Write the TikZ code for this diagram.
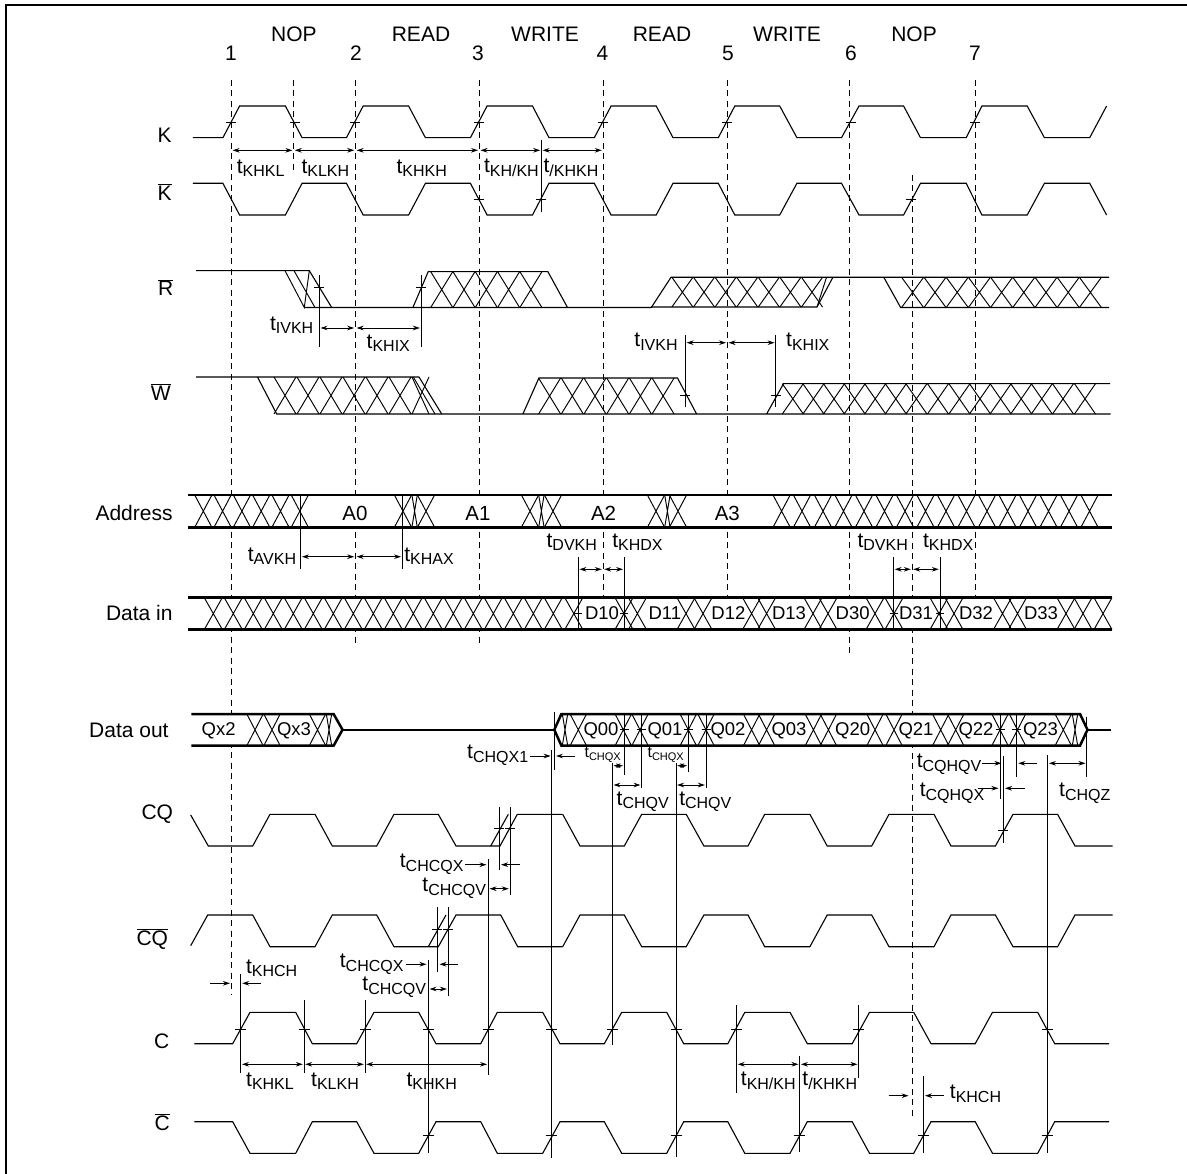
\documentclass[tikz,border=0pt]{standalone}
\usepackage{fontspec}
\setmainfont{Liberation Sans}
\usetikzlibrary{arrows.meta}
\newcommand\ol[1]{$\overline{\mbox{#1}}$}
\newcommand\tlab[1]{t\raisebox{-3.5pt}{\fontsize{16}{16}\selectfont #1}}
\newcommand\tsm[1]{{\fontsize{16}{16}\selectfont t\raisebox{-2.5pt}{\fontsize{11}{11}\selectfont #1}}}
% label: name, x, y, text
\newcommand\lbl[4]{\node[lab] (#1) at (#2,#3) {#4};}
\newcommand\blbl[4]{\node[blab] (#1) at (#2,#3) {#4};}
% crosses: ytop, ybot, half width, centres
\newcommand\xs[4]{\foreach \cc in {#4} {\draw[hatch] (\cc-#3,#1)--(\cc+#3,#2) (\cc-#3,#2)--(\cc+#3,#1);}}
% ticks: y, half width, xs
\newcommand\ticks[3]{\foreach \cc in {#3} {\draw[guide] (\cc-#2,#1)--(\cc+#2,#1);}}
% double headed: y, x list as a/b
\newcommand\dbl[2]{\foreach \aa/\bb in {#2} {\draw[dimarr] (\aa,#1)--(\bb,#1);}}
\newcommand\wK[2]{\draw[sig] (192.9,#2)--(222.9,#2)--(239.6,#1)--(285.4,#1)--(302.1,#2)--(346.4,#2)--(363.2,#1)--(408.6,#1)--(425.4,#2)--(470.4,#2)--(487.1,#1)--(532.5,#1)--(549,#2)--(594.3,#2)--(611.1,#1)--(656.2,#1)--(673,#2)--(718.3,#2)--(734.8,#1)--(779.7,#1)--(796.9,#2)--(841.5,#2)--(859,#1)--(903.6,#1)--(920.5,#2)--(966.2,#2)--(981.9,#1)--(1027.2,#1)--(1044.4,#2)--(1089.7,#2)--(1106.6,#1);}
\newcommand\wC[2]{\draw[sig] (194.3,#2)--(232.7,#2)--(250,#1)--(295.7,#1)--(312.3,#2)--(356.7,#2)--(374,#1)--(418.7,#1)--(436,#2)--(480.7,#2)--(497.3,#1)--(542.7,#1)--(560,#2)--(604.3,#2)--(621.7,#1)--(666.7,#1)--(683.7,#2)--(727.8,#2)--(744.8,#1)--(790,#1)--(807.3,#2)--(852.2,#2)--(869.5,#1)--(913.7,#1)--(931,#2)--(975.2,#2)--(992.5,#1)--(1037.7,#1)--(1054.7,#2)--(1109,#2);}
\newcommand\wQ[2]{\draw[sig] (562.7,#1)--(580,#2)--(624.3,#2)--(641.7,#1)--(686.2,#1)--(703.9,#2)--(748,#2)--(764.7,#1)--(809.9,#1)--(827.2,#2)--(871.7,#2)--(889,#1)--(934,#1)--(951,#2)--(995.4,#2)--(1013,#1)--(1057.6,#1)--(1075,#2)--(1112.6,#2);}
\tikzset{
  sig/.style={line width=1.1pt,line join=miter},
  bus/.style={line width=2.5pt},
  hatch/.style={line width=0.95pt},
  guide/.style={line width=0.9pt},
  gate/.style={line width=0.9pt,dash pattern=on 6pt off 4.5pt},
  dimarr/.style={line width=0.9pt,{Stealth[length=7pt,width=4.6pt]}-{Stealth[length=7pt,width=4.6pt]},shorten >=1.2pt,shorten <=1.2pt},
  onearr/.style={line width=0.9pt,-{Stealth[length=7pt,width=4.6pt]}},
  lab/.style={inner sep=0pt,font=\fontsize{21}{21}\selectfont},
  blab/.style={inner sep=0pt,font=\fontsize{18.5}{18.5}\selectfont}
}
\begin{document}
\begin{tikzpicture}[x=1pt,y=-1pt]
\useasboundingbox (0,0) rectangle (1187,1174);
% frame
\draw[line width=2pt] (6,1174)--(6,5)--(1187,5);
% headings
\lbl{nop1}{294}{34}{NOP}
\lbl{rd1}{421}{34}{READ}
\lbl{wr1}{545}{34}{WRITE}
\lbl{rd2}{662}{34}{READ}
\lbl{wr2}{787}{34}{WRITE}
\lbl{nop2}{914}{34}{NOP}
\lbl{n1}{231}{53}{1}
\lbl{n2}{356}{53}{2}
\lbl{n3}{478}{53}{3}
\lbl{n4}{602.5}{53}{4}
\lbl{n5}{728}{53}{5}
\lbl{n6}{851}{53}{6}
\lbl{n7}{975}{53}{7}
% signal names
\lbl{sK}{164.6}{135}{K}
\lbl{sKb}{164.6}{192}{\ol{K}}
\lbl{sR}{165.7}{287.5}{\ol{R}}
\lbl{sW}{160.7}{392}{\ol{W}}
\node[lab,anchor=east] (sA) at (172.8,513) {Address};
\node[lab,anchor=east] (sD) at (172.8,612.7) {Data in};
\lbl{sO}{128.9}{730}{Data out}
\lbl{sCQ}{157.3}{814.5}{CQ}
\lbl{sCQb}{152.3}{939}{\ol{CQ}}
\lbl{sC}{161.7}{1041.7}{C}
\lbl{sCb}{162.3}{1122}{\ol{C}}
% clock gate lines
\draw[gate] (231.4,80)--(231.4,995);
\draw[gate] (293.6,80)--(293.6,173);
\draw[gate] (355.4,80)--(355.4,644);
\draw[gate] (479.3,80)--(479.3,644);
\draw[gate] (603,80)--(603,597);
\draw[gate] (727.3,80)--(727.3,597);
\draw[gate] (849.7,80)--(849.7,653);
\draw[gate] (975.9,80)--(975.9,597);
% address bus
\fill[white] (188,495) rectangle (1112,527.3);
\draw[gate] (912,175)--(912,1117);
\draw[bus] (188,495)--(1112,495) (188,527.3)--(1112,527.3);
\xs{495}{527.3}{8.6}{203.3,222.6,241.9,261.2,280.5,299.8,403,426,530,553,656,678,781.6,802,823,843.5,864,884.5,905,925.5,946,966.5,987,1007.5,1028,1048.5,1069,1089.5}
\xs{495}{527.3}{2.7}{414.6,541.4,667.4}
\blbl{a0}{355}{513}{\fontsize{20.5}{20.5}\selectfont A0}
\blbl{a1}{478}{513}{\fontsize{20.5}{20.5}\selectfont A1}
\blbl{a2}{603.6}{513}{\fontsize{20.5}{20.5}\selectfont A2}
\blbl{a3}{727.3}{513}{\fontsize{20.5}{20.5}\selectfont A3}
% data in bus
\fill[white] (188,597.7) rectangle (1112,629.5);
\draw[bus] (188,597.7)--(1112,597.7) (188,629.5)--(1112,629.5);
\xs{597.7}{629.5}{9}{213.3,233.3,253.3,273.3,293.3,313.3,333.3,353.3,373.3,393.3,413.3,433.3,453.3,473.3,493.3,513.3,533.3,553.3,573.8,624,637.4,686,703,751.6,766.6,813,828,875,894,939,954,1002.5,1017.5,1066,1083,1103}
\blbl{d10}{602}{613.5}{D10}
\blbl{d11}{664.8}{613.5}{D11}
\blbl{d12}{728.4}{613.5}{D12}
\blbl{d13}{789}{613.5}{D13}
\blbl{d30}{852.7}{613.5}{D30}
\blbl{d31}{916}{613.5}{D31}
\blbl{d32}{976}{613.5}{D32}
\blbl{d33}{1041}{613.5}{D33}
% data out bus
\draw[bus,fill=white] (191.4,714)--(333.6,714)--(342.5,729.7)--(333.6,745.7)--(191.4,745.7);
\draw[line width=2pt] (342.5,729.7)--(554.3,729.7);
\draw[bus,fill=white] (1080,714)--(561.4,714)--(554.3,729.7)--(561.4,745.7)--(1080,745.7)--(1087.5,729.7)--cycle;
\draw[line width=2pt] (1087.5,729.7)--(1110.5,729.7);
\xs{714}{745.7}{8.2}{255,272,317.5,578.3,623.3,640,688.3,706,751.6,766.6,813.4,828.4,875,894,940.7,955.7,1000,1017.5,1063.3}
\xs{714}{745.7}{2.7}{329,565,1075}
\blbl{qx2}{218.6}{731}{Qx2}
\blbl{qx3}{294}{731}{Qx3}
\blbl{q00}{601}{731}{Q00}
\blbl{q01}{665}{731}{Q01}
\blbl{q02}{728}{731}{Q02}
\blbl{q03}{789}{731}{Q03}
\blbl{q20}{852.7}{731}{Q20}
\blbl{q21}{916}{731}{Q21}
\blbl{q22}{976}{731}{Q22}
\blbl{q23}{1040.5}{731}{Q23}
% K, K bar
\wK{106}{137.7}
\wK{215}{183.3}
\ticks{122}{5}{231,295,355,479,603,727,851,975}
\ticks{199.3}{5}{479,541.4,910.7}
\draw[guide] (541.4,140)--(541.4,212);
\dbl{150.3}{231.4/293.6,293.6/355.4,355.4/479.3,479.3/541.4,541.4/603}
\lbl{t1}{260.7}{168}{\tlab{KHKL}}
\lbl{t2}{325.4}{168}{\tlab{KLKH}}
\lbl{t3}{421.8}{168}{\tlab{KHKH}}
\lbl{t4}{511.4}{168}{\tlab{KH/KH}}
\lbl{t5}{571}{168}{\tlab{/KHKH}}
% R
\draw[sig] (196,270.7)--(309.3,270.7)--(331.7,307.5);
\draw[sig] (304.3,307.5)--(651.3,307.5)--(671,277.3)--(1109,277.3);
\draw[hatch] (285,270.7)--(304.3,307.5)--(309.3,270.7) (294,270.7)--(315,307.5);
\draw[sig] (412.9,307.5)--(428.2,271.7)--(547.9,271.7)--(567.5,307.5);
\xs{271.7}{307.5}{11}{441.7,464,486.3,508.6,530.9}
\draw[sig] (651.3,307)--(817,307)--(832.9,277.3);
\draw[hatch] (817,307)--(826.5,277.3);
\xs{277.3}{307}{10.5}{682.4,704,725.6,747.2,768.8,790.4,812}
\draw[sig] (883.8,277.3)--(900.6,307.5)--(1109,307.5);
\xs{277.3}{307.5}{11}{912.6,935,957.2,979.4,1001.6,1023.8,1046,1068.2,1090.4}
\draw[guide] (319.3,275)--(319.3,347.3) (421,275)--(421,347.3);
\ticks{287.3}{5}{319.3,421}
\dbl{328}{319.3/355.4,355.4/421}
\lbl{t6}{291.7}{325.3}{\tlab{IVKH}}
\lbl{t7}{388.3}{343.3}{\tlab{KHIX}}
% W
\draw[sig] (196,377)--(419,377)--(441.7,414);
\draw[sig] (257.5,377)--(276.7,414)--(1110.6,414);
\draw[sig] (522.9,414)--(538.9,378)--(677.5,378)--(696.6,414);
\draw[sig] (766.6,414)--(783.5,383.7)--(1110,383.7);
\draw[hatch] (413.3,377)--(435,414);
\xs{377}{414}{11}{285,308,331,354,377,400}
\draw[hatch] (412,377)--(429,414) (412,414)--(429,377);
\xs{378}{414}{11}{549.6,572.3,595,617.7,640.4,663.1}
\xs{383.7}{414}{10.5}{792.8,813.4,834,854.6,875.2,895.8,916.4,938,959.4,980,1000.6,1021.2,1041.8,1063,1085}
\draw[guide] (685.4,335)--(685.4,407.3) (775.8,335)--(775.8,407.3);
\ticks{395}{5}{685.4,775.8}
\dbl{342.7}{685.4/727.3,727.3/775.8}
\lbl{t8}{656}{341.7}{\tlab{IVKH}}
\lbl{t9}{807.8}{341.7}{\tlab{KHIX}}
% address, data in timing
\draw[guide] (300.7,495)--(300.7,569) (402.3,495)--(402.3,569);
\dbl{556.7}{300.7/355.4,355.4/402.3}
\lbl{t10}{272}{556}{\tlab{AVKH}}
\lbl{t11}{429}{556}{\tlab{KHAX}}
\draw[guide] (578.2,557)--(578.2,628) (624.3,557)--(624.3,628) (893.5,557)--(893.5,628) (940,557)--(940,628);
\ticks{613.7}{4}{578.2,624.3,893.5,940}
\dbl{569.3}{578.2/603,603/624.3,893.5/912,912/940}
\lbl{t12}{571.8}{542.3}{\tlab{DVKH}}
\lbl{t13}{637.4}{542.3}{\tlab{KHDX}}
\lbl{t14}{882.7}{542.3}{\tlab{DVKH}}
\lbl{t15}{948.2}{542.3}{\tlab{KHDX}}
% CQ
\draw[sig] (190.7,815)--(208.3,846)--(252.7,846)--(270,814.3)--(315,814.3)--(332.3,846)--(376.7,846)--(394,814.3)--(438.3,814.3)--(456,846)--(500,846)--(517.3,814.3)--(562.7,814.3);
\draw[sig] (490.7,846)--(508.3,814.3);
\wQ{814.3}{846}
% CQ bar
\draw[sig] (190.7,945.7)--(207.7,915)--(252.7,915)--(270,946.7)--(315,946.7)--(332.3,915)--(376.7,915)--(394,946.7)--(438.3,946.7)--(456,915)--(500.7,915)--(517.7,946.7)--(562.7,946.7);
\draw[sig] (428.3,946.7)--(446,915);
\wQ{946.7}{915}
% C, C bar
\wC{1012.3}{1043.7}
\wC{1153.3}{1121.7}
% data out timing
\draw[guide] (554.3,712)--(554.3,770) (551.7,750)--(551.7,1158);
\draw[guide] (624.3,715)--(624.3,775) (641.7,715)--(641.7,788.3) (688.3,715)--(688.3,771.7) (706,715)--(706,788.3);
\draw[guide] (612.3,763.3)--(612.3,1045) (676,763.3)--(676,1156.7);
\ticks{729.3}{4.5}{624.3,641.7,688.3,706,1000,1016.7}
\dbl{765.7}{612.3/624.3,676/688.3}
\dbl{785}{612.3/641.7,676/706}
\lbl{t16}{497.7}{755}{\tlab{CHQX1}}
\coordinate (q1a) at (530,756); \coordinate (q1b) at (550.7,756); \coordinate (q1c) at (575,756); \coordinate (q1d) at (556,756);
\draw[onearr] (q1a)--(q1b);
\draw[onearr] (q1c)--(q1d);
\lbl{t17}{602.7}{755}{\tsm{CHQX}}
\lbl{t18}{665.7}{755}{\tsm{CHQX}}
\lbl{t19}{642.7}{801.7}{\tlab{CHQV}}
\lbl{t20}{705.3}{801.7}{\tlab{CHQV}}
\draw[guide] (1000,715)--(1000,799.3) (1003.3,756)--(1003.3,843.3) (1016.7,715)--(1016.7,777.3) (1047.7,755)--(1047.7,1153) (1086.7,716.7)--(1086.7,777.3);
\ticks{830}{5}{1003.3}
\lbl{t21}{949}{764.3}{\tlab{CQHQV}}
\lbl{t22}{952}{793.3}{\tlab{CQHQX}}
\lbl{t23}{1084.8}{793}{\tlab{CHQZ}}
\coordinate (r1) at (981.9,763.3); \coordinate (r2) at (1001.5,763.3); \coordinate (r3) at (1037.3,763.3); \coordinate (r4) at (1018.3,763.3);
\coordinate (r5) at (978,788.3); \coordinate (r6) at (998.5,788.3); \coordinate (r7) at (1025,788.3); \coordinate (r8) at (1005,788.3);
\draw[onearr] (r1)--(r2);
\draw[onearr] (r3)--(r4);
\draw[onearr] (r5)--(r6);
\draw[onearr] (r7)--(r8);
\dbl{763.3}{1047.7/1086.7}
% CQ timing
\draw[guide] (499.3,807.3)--(499.3,870) (510,807.3)--(510,895) (488.3,859.3)--(488.3,1075);
\ticks{828.7}{5}{499.3,510}
\lbl{t24}{431.7}{864.3}{\tlab{CHCQX}}
\lbl{t25}{454.3}{888.3}{\tlab{CHCQV}}
\coordinate (s1) at (465,864.7); \coordinate (s2) at (486.5,864.7); \coordinate (s3) at (520,864.7); \coordinate (s4) at (501,864.7);
\draw[onearr] (s1)--(s2);
\draw[onearr] (s3)--(s4);
\dbl{888.7}{488.3/510}
% CQ bar timing
\draw[guide] (437.3,907.3)--(437.3,971.7) (448,907.3)--(448,995.7) (428.3,960)--(428.3,1153);
\ticks{929.7}{5}{437.3,448}
\lbl{t26}{371.7}{964.3}{\tlab{CHCQX}}
\lbl{t27}{394.3}{987.3}{\tlab{CHCQV}}
\coordinate (u1) at (406,964.3); \coordinate (u2) at (426.5,964.3); \coordinate (u3) at (458.3,964.3); \coordinate (u4) at (439.5,964.3);
\draw[onearr] (u1)--(u2);
\draw[onearr] (u3)--(u4);
\dbl{989}{428.3/448}
% C timing
\draw[guide] (240.7,974)--(240.7,1073) (304,1000)--(304,1073) (365,1000)--(365,1073);
\draw[guide] (736.5,1005)--(736.5,1092.7) (858.7,1005)--(858.7,1078) (799.7,1056)--(799.7,1151.7) (923.4,1076)--(923.4,1153);
\ticks{1029.3}{5.5}{240.7,304,365,428.3,488.3,551.7,612.7,676,736.5,858.7,1047.8}
\ticks{1135}{5.5}{428.3,551.7,676,799.7,923.4,1047.8}
\dbl{1064.3}{240.7/304,304/365,365/488.3,736.5/799.7,799.7/858.7}
\lbl{t28}{270}{1081}{\tlab{KHKL}}
\lbl{t29}{335}{1081}{\tlab{KLKH}}
\lbl{t30}{431.7}{1081}{\tlab{KHKH}}
\lbl{t31}{768.3}{1081}{\tlab{KH/KH}}
\lbl{t32}{829.8}{1081}{\tlab{/KHKH}}
\lbl{t33}{271.7}{968.3}{\tlab{KHCH}}
\lbl{t34}{975.5}{1094}{\tlab{KHCH}}
\coordinate (v1) at (210,983.3); \coordinate (v2) at (230,983.3); \coordinate (v3) at (261,983.3); \coordinate (v4) at (242.2,983.3);
\draw[onearr] (v1)--(v2);
\draw[onearr] (v3)--(v4);
\coordinate (w1) at (888.7,1095.7); \coordinate (w2) at (908.6,1095.7); \coordinate (w3) at (943.7,1095.7); \coordinate (w4) at (925,1095.7);
\draw[onearr] (w1)--(w2);
\draw[onearr] (w3)--(w4);
\end{tikzpicture}
\end{document}
